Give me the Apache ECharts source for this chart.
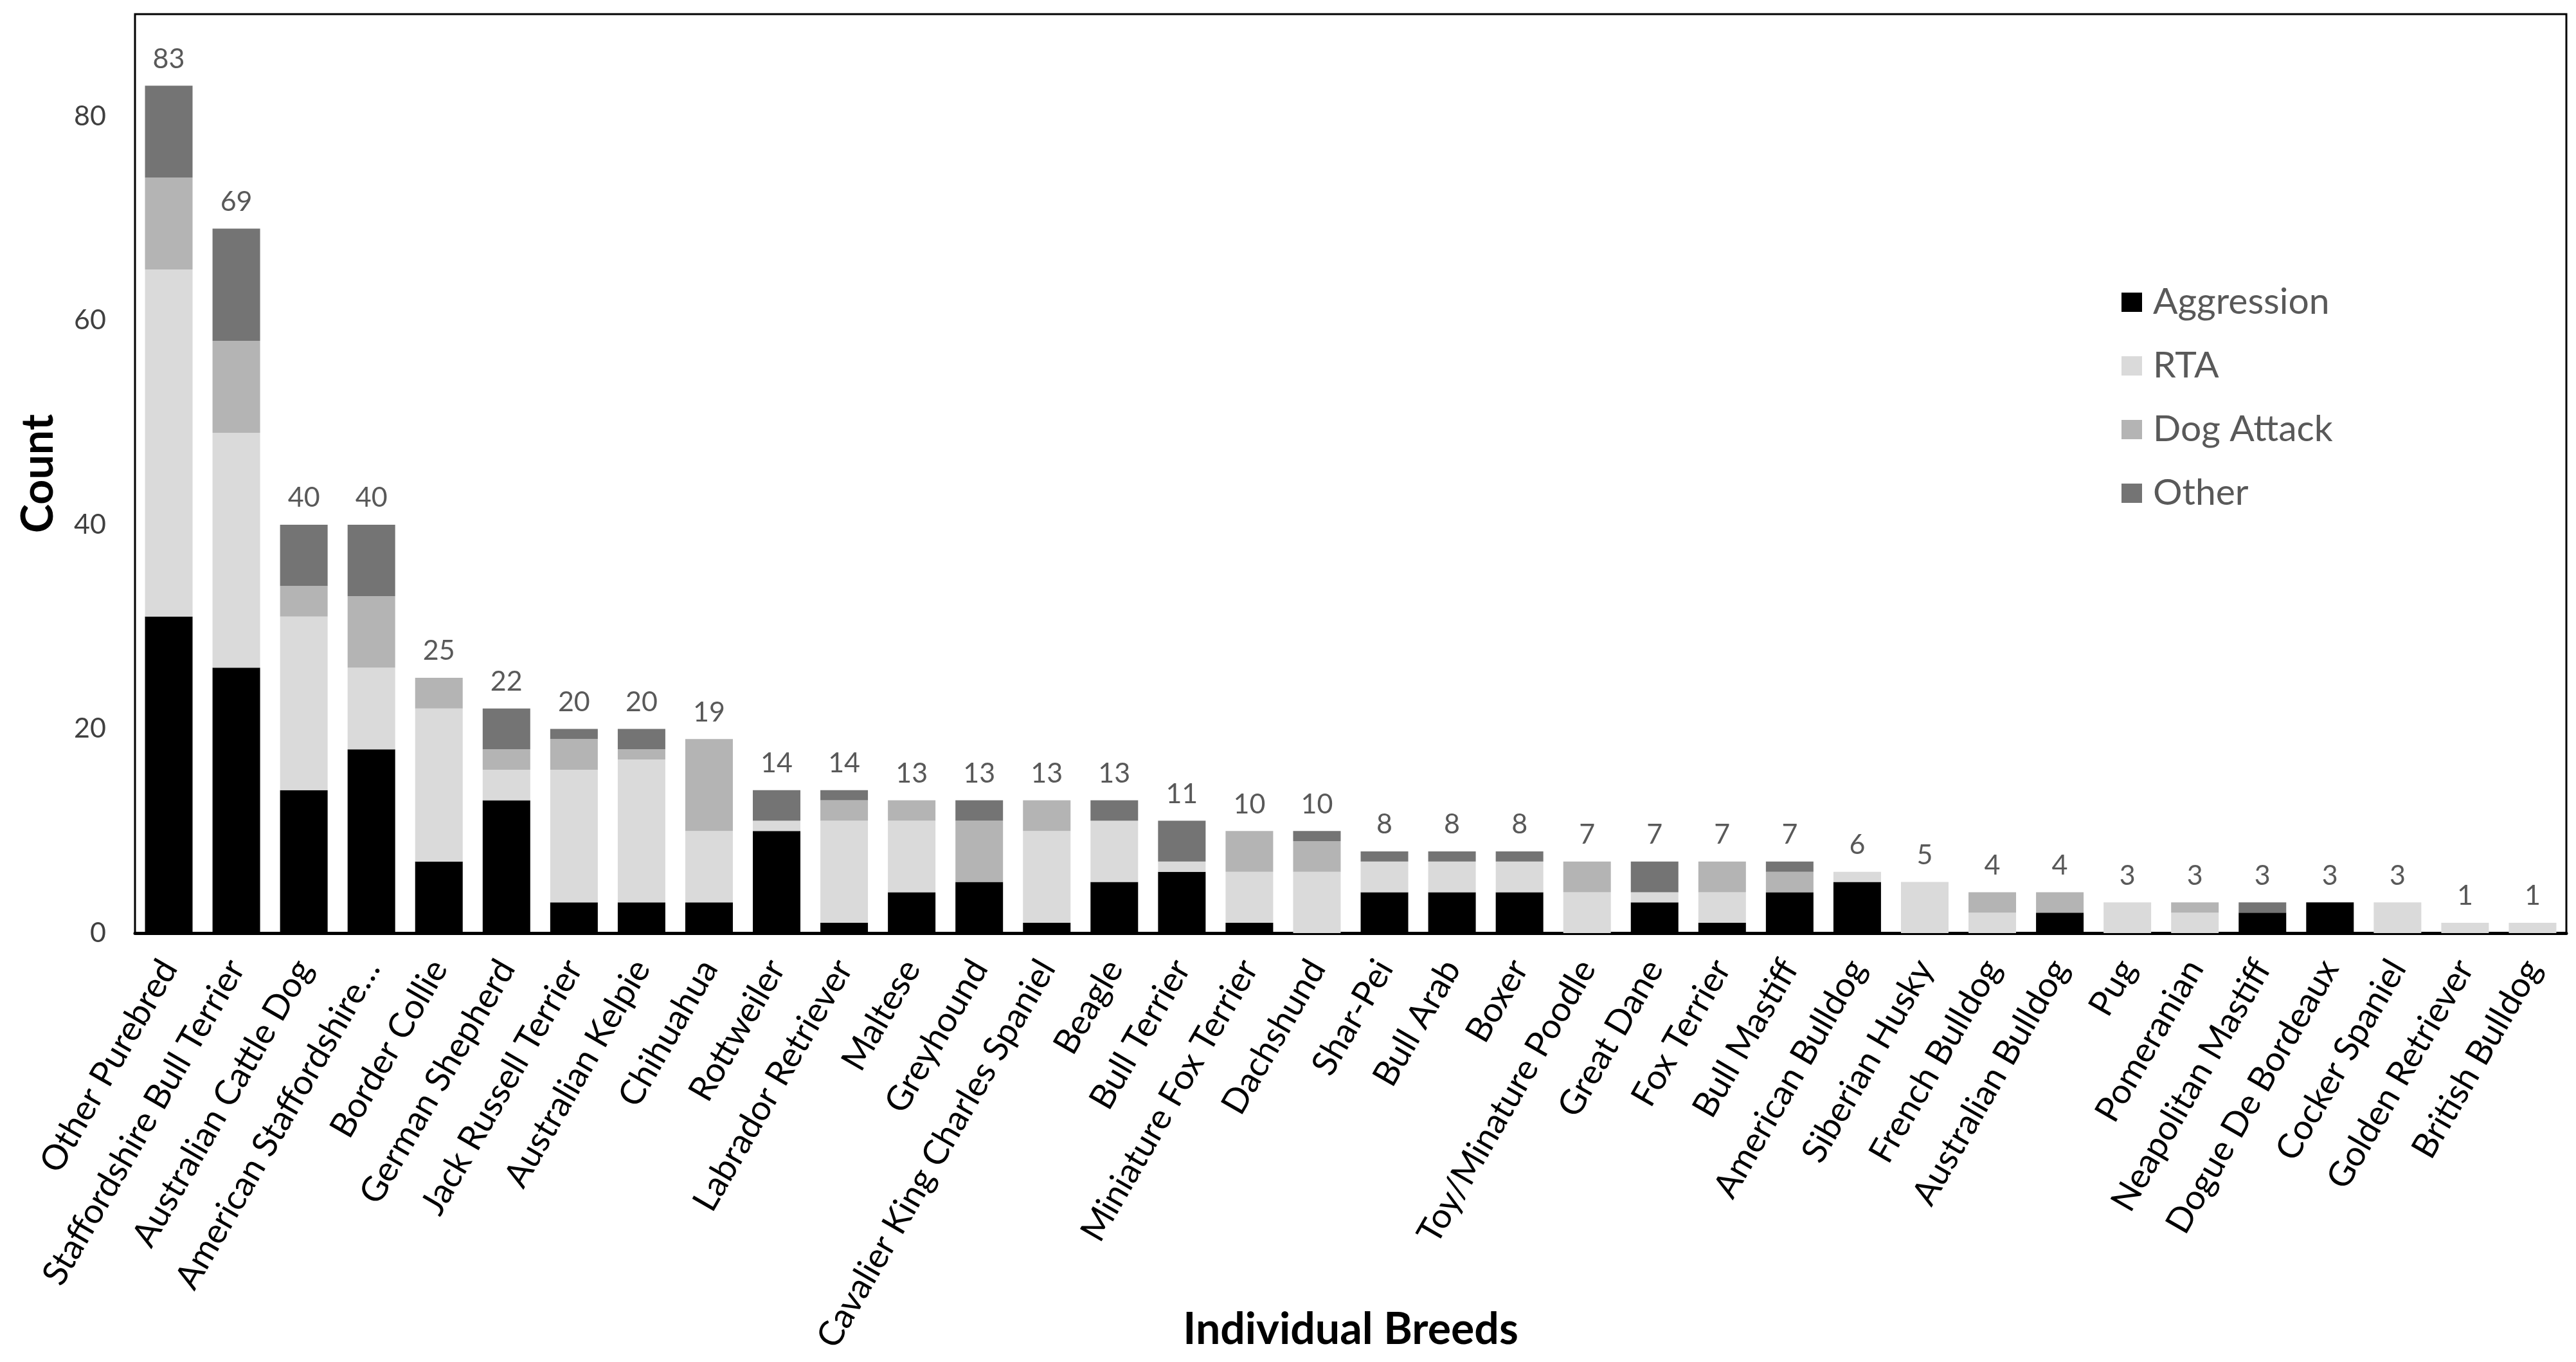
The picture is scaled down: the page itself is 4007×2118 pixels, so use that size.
<!DOCTYPE html>
<html>
<head>
<meta charset="utf-8">
<script src="https://cdn.jsdelivr.net/npm/echarts@6/dist/echarts.min.js"></script>
<style>
html,body{margin:0;padding:0;background:#fff;}
#chart{width:4007px;height:2118px;}
</style>
</head>
<body>
<div id="chart"></div>
<script>
const breeds = ['Other Purebred','Staffordshire Bull Terrier','Australian Cattle Dog','American Staffordshire…','Border Collie','German Shepherd','Jack Russell Terrier','Australian Kelpie','Chihuahua','Rottweiler','Labrador Retriever','Maltese','Greyhound','Cavalier King Charles Spaniel','Beagle','Bull Terrier','Miniature Fox Terrier','Dachshund','Shar-Pei','Bull Arab','Boxer','Toy/Minature Poodle','Great Dane','Fox Terrier','Bull Mastiff','American Bulldog','Siberian Husky','French Bulldog','Australian Bulldog','Pug','Pomeranian','Neapolitan Mastiff','Dogue De Bordeaux','Cocker Spaniel','Golden Retriever','British Bulldog'];
const aggression = [31,26,14,18,7,13,3,3,3,10,1,4,5,1,5,6,1,0,4,4,4,0,3,1,4,5,0,0,2,0,0,2,3,0,0,0];
const rta        = [34,23,17,8,15,3,13,14,7,1,10,7,0,9,6,1,5,6,3,3,3,4,1,3,0,1,5,2,0,3,2,0,0,3,1,1];
const dogAttack  = [9,9,3,7,3,2,3,1,9,0,2,2,6,3,0,0,4,3,0,0,0,3,0,3,2,0,0,2,2,0,1,0,0,0,0,0];
const other      = [9,11,6,7,0,4,1,2,0,3,1,0,2,0,2,4,0,1,1,1,1,0,3,0,1,0,0,0,0,0,0,1,0,0,0,0];
const totals     = [83,69,40,40,25,22,20,20,19,14,14,13,13,13,13,11,10,10,8,8,8,7,7,7,7,6,5,4,4,3,3,3,3,3,1,1];
const yTicks = [0,20,40,60,80];

const FONT = 'Lato';
const BW = 74;
const chart = echarts.init(document.getElementById('chart'), null, {renderer:'canvas'});

function stackSeries(name, data, color){
  return {name, type:'bar', stack:'all', data, barWidth:BW, itemStyle:{color}, emphasis:{disabled:true}};
}

chart.setOption({
  animation:false,
  textStyle:{fontFamily:FONT},
  grid:{left:210, right:15, top:22, bottom:667, show:true, borderColor:'#000', borderWidth:3,
        containLabel:false, outerBoundsMode:'none'},
  legend:{
    orient:'vertical', left:3295, top:435, itemWidth:32, itemHeight:30, itemGap:39,
    icon:'rect',
    data:['Aggression','RTA','Dog Attack','Other'],
    textStyle:{fontFamily:FONT, fontSize:57, color:'#595959', lineHeight:60, padding:[0,0,0,12]}
  },
  xAxis:{
    type:'category', data:breeds,
    name:'Individual Breeds', nameLocation:'middle', nameGap:583, nameMoveOverlap:false,
    nameTextStyle:{fontFamily:FONT, fontSize:68, fontWeight:'bold', color:'#000'},
    axisTick:{show:false},
    axisLine:{lineStyle:{color:'#000', width:5}},
    axisLabel:{interval:0, rotate:60, fontSize:54, color:'#000', margin:46, fontFamily:FONT}
  },
  yAxis:{
    type:'value', min:0, max:90, interval:20,
    name:'Count', nameLocation:'middle', nameGap:116, nameRotate:90, nameMoveOverlap:false,
    nameTextStyle:{fontFamily:FONT, fontSize:68, fontWeight:'bold', color:'#000'},
    axisLine:{show:false}, axisTick:{show:false}, splitLine:{show:false},
    axisLabel:{fontSize:43, color:'#404040', margin:45, fontFamily:FONT,
      formatter:v => yTicks.indexOf(v) >= 0 ? String(v) : ''}
  },
  series:[
    stackSeries('Aggression', aggression, '#000000'),
    stackSeries('RTA', rta, '#dadada'),
    stackSeries('Dog Attack', dogAttack, '#b4b4b4'),
    stackSeries('Other', other, '#747474'),
    {name:'Total', type:'bar', data:totals, barWidth:BW, barGap:'-100%', z:1,
     itemStyle:{color:'rgba(0,0,0,0)'}, emphasis:{disabled:true},
     label:{show:true, position:'top', distance:20, fontSize:43, color:'#595959', fontFamily:FONT}}
  ]
});
</script>
</body>
</html>
